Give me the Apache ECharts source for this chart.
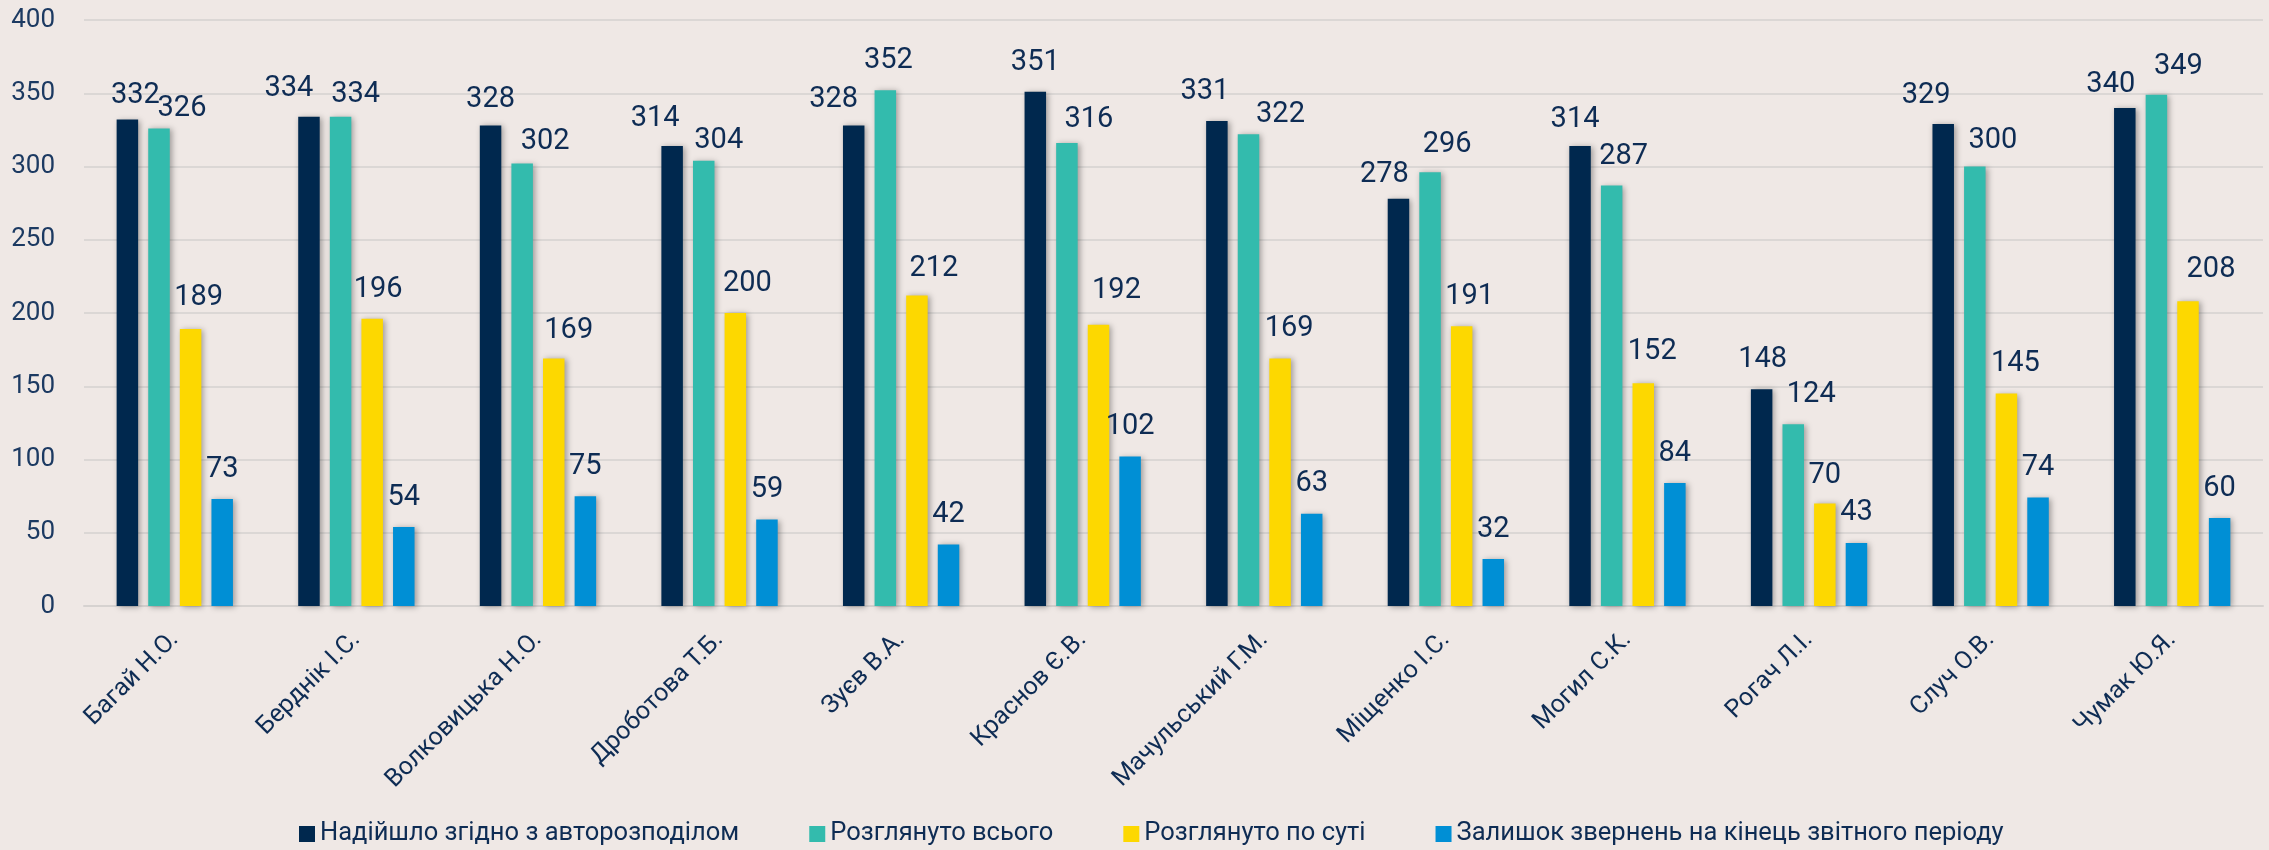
<!DOCTYPE html>
<html>
<head>
<meta charset="utf-8">
<script src="https://cdn.jsdelivr.net/npm/echarts@6/dist/echarts.min.js"></script>
<style>
html,body{margin:0;padding:0;background:#EFE8E5;}
#chart{width:2269px;height:850px;}
</style>
</head>
<body>
<div id="chart"></div>
<script>
const categories = ['Багай Н.О.', 'Берднік І.С.', 'Волковицька Н.О.', 'Дроботова Т.Б.', 'Зуєв В.А.', 'Краснов Є.В.', 'Мачульський Г.М.', 'Міщенко І.С.', 'Могил С.К.', 'Рогач Л.І.', 'Случ О.В.', 'Чумак Ю.Я.'];
const seriesNames = ['Надійшло згідно з авторозподілом', 'Розглянуто всього', 'Розглянуто по суті', 'Залишок звернень на кінець звітного періоду'];
const received = [332, 334, 328, 314, 328, 351, 331, 278, 314, 148, 329, 340];
const reviewedTotal = [326, 334, 302, 304, 352, 316, 322, 296, 287, 124, 300, 349];
const reviewedMerits = [189, 196, 169, 200, 212, 192, 169, 191, 152, 70, 145, 208];
const remaining = [73, 54, 75, 59, 42, 102, 63, 32, 84, 43, 74, 60];
const yTicks = [0, 50, 100, 150, 200, 250, 300, 350, 400];

// label nudges (px) reproducing the manually moved value labels
const nudgeX = [
  [8, -20, 0, -17, -20, 0, -12, -14, -5, 1, -17, -14],
  [23, 15, 23, 15, 3, 22, 32, 17, 12, 18, 18, 22],
  [8, 6, 15, 12, 17, 18, 9, 8, 9, 0, 9, 23],
  [0, 0, 0, 0, 0, 0, 0, 0, 0, 0, 0, 0]
];
const nudgeY = [
  [6, 2, 4, 2, 4, 0, 0, 6, 3, 0, 1, 6],
  [10, 8, 8, 10, 0, 6, 10, 2, 1, 0, 4, 2],
  [-2, 0, 2, 0, 3, -4, 0, 0, -2, 2, 0, -2],
  [0, 0, 0, 0, 0, 0, 0, 0, 0, -1, 0, 0]
];

const colors = ['#00284E', '#33BBAD', '#FDD800', '#008FD5'];
const textColor = '#0E2C54';
const FONT = 'Roboto, "Noto Sans", sans-serif';

const values = [received, reviewedTotal, reviewedMerits, remaining];

const chart = echarts.init(document.getElementById('chart'), null, {renderer: 'canvas'});

const series = values.map((vals, s) => ({
  name: seriesNames[s],
  type: 'bar',
  barWidth: 21.5,
  barGap: '47%',
  itemStyle: {
    color: colors[s],
    shadowColor: 'rgba(0,0,0,0.35)',
    shadowBlur: 6,
    shadowOffsetX: 2,
    shadowOffsetY: 1
  },
  label: {
    show: true,
    position: 'top',
    distance: 15,
    color: textColor,
    fontFamily: FONT,
    fontSize: 29
  },
  data: vals.map((v, i) => ({
    value: v,
    label: {offset: [nudgeX[s][i], nudgeY[s][i]]}
  }))
}));

chart.setOption({
  backgroundColor: '#EFE8E5',
  animation: false,
  color: colors,
  grid: {left: 84, right: 6, top: 20, bottom: 244, containLabel: false},
  legend: {
    data: seriesNames,
    left: 294,
    top: 816,
    itemWidth: 16,
    itemHeight: 16,
    itemGap: 70,
    icon: 'rect',
    textStyle: {color: textColor, fontFamily: FONT, fontSize: 25.5}
  },
  xAxis: {
    type: 'category',
    data: categories,
    axisLine: {show: true, lineStyle: {color: '#D6D2D0', width: 2}},
    axisTick: {show: false},
    axisLabel: {
      rotate: 45,
      margin: 30,
      interval: 0,
      color: textColor,
      fontFamily: FONT,
      fontSize: 25
    }
  },
  yAxis: {
    type: 'value',
    min: yTicks[0],
    max: yTicks[yTicks.length - 1],
    interval: yTicks[1] - yTicks[0],
    axisLine: {show: false},
    axisTick: {show: false},
    splitLine: {lineStyle: {color: '#DBD7D5', width: 2}},
    axisLabel: {
      margin: 29,
      color: '#1C3A62',
      fontFamily: FONT,
      fontSize: 26
    }
  },
  series: series
});
</script>
</body>
</html>
